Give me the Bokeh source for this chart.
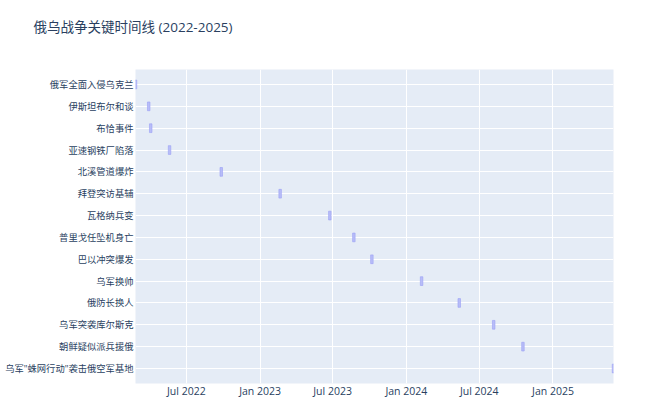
from datetime import datetime
from bokeh.plotting import figure
from bokeh.models import ColumnDataSource, FactorRange, Range1d, FixedTicker, DatetimeTickFormatter, Title
from bokeh.embed import file_html
from bokeh.resources import INLINE

events = [
    "俄军全面入侵乌克兰",
    "伊斯坦布尔和谈",
    "布恰事件",
    "亚速钢铁厂陷落",
    "北溪管道爆炸",
    "拜登突访基辅",
    "瓦格纳兵变",
    "普里戈任坠机身亡",
    "巴以冲突爆发",
    "乌军换帅",
    "俄防长换人",
    "乌军突袭库尔斯克",
    "朝鲜疑似派兵援俄",
    "乌军\"蛛网行动\"袭击俄空军基地",
]
dates = [
    "2022-02-24", "2022-03-29", "2022-04-03", "2022-05-20", "2022-09-26",
    "2023-02-20", "2023-06-24", "2023-08-23", "2023-10-07", "2024-02-08",
    "2024-05-12", "2024-08-06", "2024-10-18", "2025-06-01",
]
tick_dates = ["2022-07-01", "2023-01-01", "2023-07-01", "2024-01-01", "2024-07-01", "2025-01-01"]
title_text = "俄乌战争关键时间线 (2022-2025)"

def ms(s):
    return datetime.strptime(s, "%Y-%m-%d").timestamp() * 1000.0

xs = [datetime.strptime(d, "%Y-%m-%d") for d in dates]
src = ColumnDataSource(dict(event=events, date=xs))

FONT = "'Open Sans', 'Noto Sans CJK SC', sans-serif"

p = figure(
    frame_width=478, frame_height=314,
    x_axis_type="datetime",
    y_range=FactorRange(*list(reversed(events)), factor_padding=0.0),
    x_range=Range1d(ms(dates[0]), ms(dates[-1])),
    output_backend="svg", toolbar_location=None,
    min_border_left=135, min_border_right=46, min_border_top=69, min_border_bottom=24,
)
p.title = None
p.y_range.range_padding = 0.0266
p.y_range.range_padding_units = "percent"

# spacer between title and plot frame
spacer = Title(text=" ", text_font_size="18px", standoff=7, text_color="white")
p.add_layout(spacer, "above")
main_title = Title(text=title_text, text_font=FONT, text_font_size="13.5px",
                   text_font_style="normal", text_color="#2a3f5f",
                   align="left", offset=-102)
p.add_layout(main_title, "above")

p.background_fill_color = "#e5ecf6"
p.border_fill_color = "white"
p.outline_line_color = None

p.rect(x="date", y="event", width=2.5, width_units="screen", height=0.4,
       source=src, fill_color="#b8bdf8", line_color="#9aa0f5", line_width=0.6)

p.xaxis.ticker = FixedTicker(ticks=[ms(t) for t in tick_dates])
p.xaxis.formatter = DatetimeTickFormatter(days="%b %Y", months="%b %Y", years="%b %Y")

for ax in (p.xaxis[0], p.yaxis[0]):
    ax.axis_line_color = None
    ax.major_tick_line_color = None
    ax.minor_tick_line_color = None
    ax.major_tick_out = 0
    ax.major_tick_in = 0
    ax.minor_tick_out = 0
    ax.minor_tick_in = 0
    ax.major_label_text_font = FONT
    ax.major_label_text_color = "#2a3f5f"
p.xaxis.major_label_text_font_size = "10.5px"
p.yaxis.major_label_text_font_size = "9.3px"
p.xaxis.major_label_standoff = 0
p.yaxis.major_label_standoff = 2

p.xgrid.grid_line_color = "white"
p.ygrid.grid_line_color = "white"
p.xgrid.grid_line_width = 1
p.ygrid.grid_line_width = 1

open("out.html", "w").write(file_html(p, INLINE))
